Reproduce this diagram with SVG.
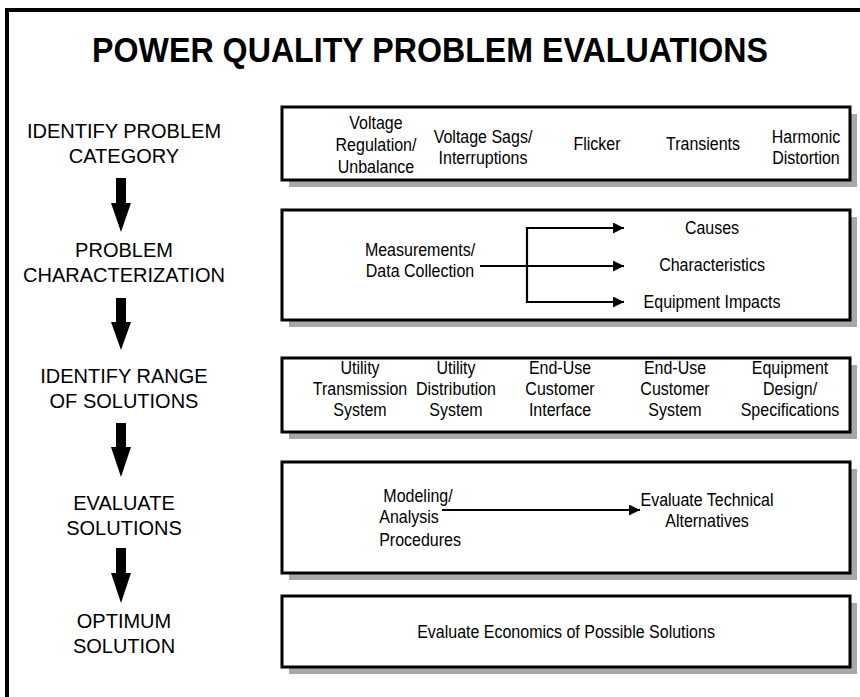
<svg xmlns="http://www.w3.org/2000/svg" width="860" height="697" viewBox="0 0 860 697">
<defs>
<style>
.t{font-family:"Liberation Sans",Arial,Helvetica,sans-serif;fill:#000}
.title{font-size:35px;font-weight:bold;text-anchor:middle;transform-box:fill-box;transform-origin:center;transform:scaleX(0.92)}
.lbl{font-size:20px;text-anchor:middle}
.bx{font-size:18.5px;text-anchor:middle;transform-box:fill-box;transform-origin:center;transform:scaleX(0.865)}
.box{fill:#fff;stroke:#000;stroke-width:3}
.sh{fill:#a8a8a8}
.ln{stroke:#000;stroke-width:2.2;fill:none}
.big{fill:#000}
</style>
<marker id="ah" viewBox="0 0 10 10" refX="10" refY="5" markerWidth="7" markerHeight="5" markerUnits="strokeWidth" orient="auto">
<path d="M0,0 L10,5 L0,10 Z" fill="#000"/>
</marker>
</defs>
<rect width="860" height="697" fill="#fff"/>
<path d="M7,697 V10 H860" fill="none" stroke="#000" stroke-width="4"/>
<text class="t title" x="430" y="62">POWER QUALITY PROBLEM EVALUATIONS</text>

<g id="step1">
<text class="t lbl" x="124" y="138">IDENTIFY PROBLEM</text>
<text class="t lbl" x="124" y="163">CATEGORY</text>
</g>
<g id="step2">
<text class="t lbl" x="124" y="257">PROBLEM</text>
<text class="t lbl" x="124" y="282">CHARACTERIZATION</text>
</g>
<g id="step3">
<text class="t lbl" x="124" y="383">IDENTIFY RANGE</text>
<text class="t lbl" x="124" y="408">OF SOLUTIONS</text>
</g>
<g id="step4">
<text class="t lbl" x="124" y="510">EVALUATE</text>
<text class="t lbl" x="124" y="535">SOLUTIONS</text>
</g>
<g id="step5">
<text class="t lbl" x="124" y="628">OPTIMUM</text>
<text class="t lbl" x="124" y="653">SOLUTION</text>
</g>

<g id="box1">
<rect class="sh" x="289" y="114" width="568" height="73"/>
<rect class="box" x="282" y="107" width="568" height="73"/>
<text class="t bx" x="376" y="129">Voltage</text>
<text class="t bx" x="376" y="151">Regulation/</text>
<text class="t bx" x="376" y="173">Unbalance</text>
<text class="t bx" x="483" y="143">Voltage Sags/</text>
<text class="t bx" x="483" y="164">Interruptions</text>
<text class="t bx" x="597" y="150">Flicker</text>
<text class="t bx" x="703" y="150">Transients</text>
<text class="t bx" x="806" y="143">Harmonic</text>
<text class="t bx" x="806" y="164">Distortion</text>
</g>

<g id="box2">
<rect class="sh" x="289" y="217" width="568" height="110"/>
<rect class="box" x="282" y="210" width="568" height="110"/>
<text class="t bx" x="420" y="256">Measurements/</text>
<text class="t bx" x="420" y="277">Data Collection</text>
<text class="t bx" x="712" y="234">Causes</text>
<text class="t bx" x="712" y="271">Characteristics</text>
<text class="t bx" x="712" y="308">Equipment Impacts</text>
</g>

<g id="box3">
<rect class="sh" x="289" y="365" width="568" height="74"/>
<rect class="box" x="282" y="358" width="568" height="74"/>
<text class="t bx" x="360" y="374">Utility</text>
<text class="t bx" x="360" y="395">Transmission</text>
<text class="t bx" x="360" y="416">System</text>
<text class="t bx" x="456" y="374">Utility</text>
<text class="t bx" x="456" y="395">Distribution</text>
<text class="t bx" x="456" y="416">System</text>
<text class="t bx" x="560" y="374">End-Use</text>
<text class="t bx" x="560" y="395">Customer</text>
<text class="t bx" x="560" y="416">Interface</text>
<text class="t bx" x="675" y="374">End-Use</text>
<text class="t bx" x="675" y="395">Customer</text>
<text class="t bx" x="675" y="416">System</text>
<text class="t bx" x="790" y="374">Equipment</text>
<text class="t bx" x="790" y="395">Design/</text>
<text class="t bx" x="790" y="416">Specifications</text>
</g>

<g id="box4">
<rect class="sh" x="289" y="469" width="568" height="111"/>
<rect class="box" x="282" y="462" width="568" height="111"/>
<text class="t bx" x="418" y="502">Modeling/</text>
<text class="t bx" x="409" y="523">Analysis</text>
<text class="t bx" x="420" y="546">Procedures</text>
<text class="t bx" x="707" y="506">Evaluate Technical</text>
<text class="t bx" x="707" y="527">Alternatives</text>
</g>

<g id="box5">
<rect class="sh" x="289" y="603" width="568" height="71"/>
<rect class="box" x="282" y="596" width="568" height="71"/>
<text class="t bx" x="566" y="638">Evaluate Economics of Possible Solutions</text>
</g>

<g id="connectors">
<path class="big" d="M116,178 H126 V203 H131 L121,232 L111,203 H116 Z"/>
<path class="big" d="M116,298 H126 V322 H131 L121,350 L111,322 H116 Z"/>
<path class="big" d="M116,423 H126 V447 H131 L121,477 L111,447 H116 Z"/>
<path class="big" d="M116,548 H126 V573 H131 L121,603 L111,573 H116 Z"/>
<path class="ln" d="M480,266 H624" marker-end="url(#ah)"/>
<path class="ln" d="M624,228 H527 V302 H624" marker-end="url(#ah)"/>
<path class="ln" d="M527,228 H624" marker-end="url(#ah)"/>
<path class="ln" d="M442,510 H640" marker-end="url(#ah)"/>
</g>
</svg>
